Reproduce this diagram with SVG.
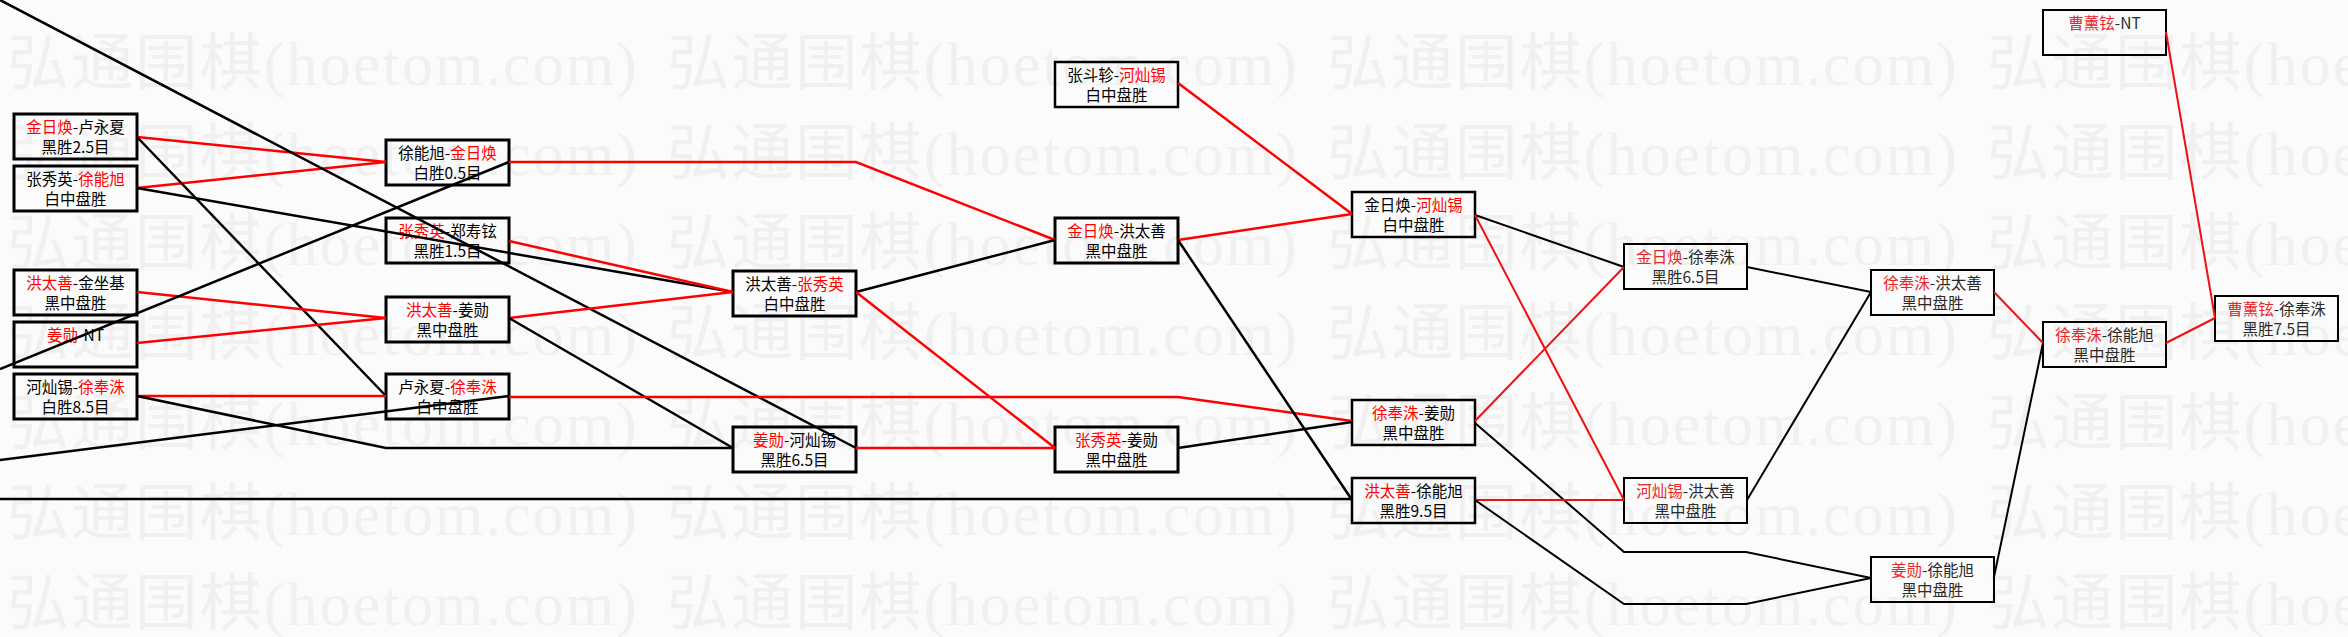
<svg xmlns="http://www.w3.org/2000/svg" xmlns:xlink="http://www.w3.org/1999/xlink" width="2348" height="637" viewBox="0 0 2348 637">
<style>
.wm{font-family:"Liberation Serif","Noto Sans CJK SC",serif;font-size:62px;fill:#f0f0f0}
.box{fill:none;stroke:#000;stroke-width:3}
.box.m{stroke-width:2.5}
.box.s{stroke-width:2}
.t{font-family:"Noto Sans CJK SC",sans-serif;font-size:15.5px;fill:#000;text-anchor:middle}
.t.s{fill:#2a2a2a}
.r{fill:#ff0000}
.lt .r{fill:#e8262a}
.k{fill:none;stroke:#000;stroke-width:2.5;stroke-linejoin:miter}
.red{fill:none;stroke:#ff0000;stroke-width:2.5}
.k2{fill:none;stroke:#000;stroke-width:2}
.red2{fill:none;stroke:#ee1111;stroke-width:2}
</style>
<defs>
<text id="wm" class="wm" textLength="630" lengthAdjust="spacing">弘通围棋(hoetom.com)</text>
</defs>
<rect x="0" y="0" width="2348" height="637" fill="#fbfbfb"/>
<g id="watermark">
<use xlink:href="#wm" x="7" y="85"/><use xlink:href="#wm" x="667" y="85"/><use xlink:href="#wm" x="1327" y="85"/><use xlink:href="#wm" x="1987" y="85"/>
<use xlink:href="#wm" x="7" y="175"/><use xlink:href="#wm" x="667" y="175"/><use xlink:href="#wm" x="1327" y="175"/><use xlink:href="#wm" x="1987" y="175"/>
<use xlink:href="#wm" x="7" y="265"/><use xlink:href="#wm" x="667" y="265"/><use xlink:href="#wm" x="1327" y="265"/><use xlink:href="#wm" x="1987" y="265"/>
<use xlink:href="#wm" x="7" y="355"/><use xlink:href="#wm" x="667" y="355"/><use xlink:href="#wm" x="1327" y="355"/><use xlink:href="#wm" x="1987" y="355"/>
<use xlink:href="#wm" x="7" y="445"/><use xlink:href="#wm" x="667" y="445"/><use xlink:href="#wm" x="1327" y="445"/><use xlink:href="#wm" x="1987" y="445"/>
<use xlink:href="#wm" x="7" y="535"/><use xlink:href="#wm" x="667" y="535"/><use xlink:href="#wm" x="1327" y="535"/><use xlink:href="#wm" x="1987" y="535"/>
<use xlink:href="#wm" x="7" y="625"/><use xlink:href="#wm" x="667" y="625"/><use xlink:href="#wm" x="1327" y="625"/><use xlink:href="#wm" x="1987" y="625"/>
</g>
<g id="n1"><rect class="box" x="14" y="114" width="123" height="45"/><text class="t" x="75.5" y="133"><tspan class="r">金日焕</tspan>-卢永夏</text><text class="t" x="75.5" y="153">黑胜2.5目</text></g>
<g id="n2"><rect class="box" x="14" y="166" width="123" height="45"/><text class="t" x="75.5" y="185">张秀英-<tspan class="r">徐能旭</tspan></text><text class="t" x="75.5" y="205">白中盘胜</text></g>
<g id="n3"><rect class="box" x="14" y="270" width="123" height="45"/><text class="t" x="75.5" y="289"><tspan class="r">洪太善</tspan>-金坐基</text><text class="t" x="75.5" y="309">黑中盘胜</text></g>
<g id="n4"><rect class="box" x="14" y="322" width="123" height="45"/><text class="t" x="75.5" y="341"><tspan class="r">姜勋</tspan>-NT</text></g>
<g id="n5"><rect class="box" x="14" y="374" width="123" height="45"/><text class="t" x="75.5" y="393">河灿锡-<tspan class="r">徐奉洙</tspan></text><text class="t" x="75.5" y="413">白胜8.5目</text></g>
<g id="n6"><rect class="box" x="386" y="140" width="123" height="45"/><text class="t" x="447.5" y="159">徐能旭-<tspan class="r">金日焕</tspan></text><text class="t" x="447.5" y="179">白胜0.5目</text></g>
<g id="n7"><rect class="box" x="386" y="218" width="123" height="45"/><text class="t" x="447.5" y="237"><tspan class="r">张秀英</tspan>-郑寿铉</text><text class="t" x="447.5" y="257">黑胜1.5目</text></g>
<g id="n8"><rect class="box" x="386" y="297" width="123" height="45"/><text class="t" x="447.5" y="316"><tspan class="r">洪太善</tspan>-姜勋</text><text class="t" x="447.5" y="336">黑中盘胜</text></g>
<g id="n9"><rect class="box" x="386" y="374" width="123" height="45"/><text class="t" x="447.5" y="393">卢永夏-<tspan class="r">徐奉洙</tspan></text><text class="t" x="447.5" y="413">白中盘胜</text></g>
<g id="n10"><rect class="box" x="733" y="271" width="123" height="45"/><text class="t" x="794.5" y="290">洪太善-<tspan class="r">张秀英</tspan></text><text class="t" x="794.5" y="310">白中盘胜</text></g>
<g id="n11"><rect class="box" x="733" y="427" width="123" height="45"/><text class="t" x="794.5" y="446"><tspan class="r">姜勋</tspan>-河灿锡</text><text class="t" x="794.5" y="466">黑胜6.5目</text></g>
<g id="n12"><rect class="box m" x="1055" y="62" width="123" height="45"/><text class="t" x="1116.5" y="81">张斗轸-<tspan class="r">河灿锡</tspan></text><text class="t" x="1116.5" y="101">白中盘胜</text></g>
<g id="n13"><rect class="box" x="1055" y="218" width="123" height="45"/><text class="t" x="1116.5" y="237"><tspan class="r">金日焕</tspan>-洪太善</text><text class="t" x="1116.5" y="257">黑中盘胜</text></g>
<g id="n14"><rect class="box" x="1055" y="427" width="123" height="45"/><text class="t" x="1116.5" y="446"><tspan class="r">张秀英</tspan>-姜勋</text><text class="t" x="1116.5" y="466">黑中盘胜</text></g>
<g id="n15"><rect class="box m" x="1352" y="192" width="123" height="45"/><text class="t" x="1413.5" y="211">金日焕-<tspan class="r">河灿锡</tspan></text><text class="t" x="1413.5" y="231">白中盘胜</text></g>
<g id="n16"><rect class="box m" x="1352" y="400" width="123" height="45"/><text class="t" x="1413.5" y="419"><tspan class="r">徐奉洙</tspan>-姜勋</text><text class="t" x="1413.5" y="439">黑中盘胜</text></g>
<g id="n17"><rect class="box m" x="1352" y="478" width="123" height="45"/><text class="t" x="1413.5" y="497"><tspan class="r">洪太善</tspan>-徐能旭</text><text class="t" x="1413.5" y="517">黑胜9.5目</text></g>
<g id="n18" class="lt"><rect class="box s" x="1624" y="244" width="123" height="45"/><text class="t s" x="1685.5" y="263"><tspan class="r">金日焕</tspan>-徐奉洙</text><text class="t s" x="1685.5" y="283">黑胜6.5目</text></g>
<g id="n19" class="lt"><rect class="box s" x="1624" y="478" width="123" height="45"/><text class="t s" x="1685.5" y="497"><tspan class="r">河灿锡</tspan>-洪太善</text><text class="t s" x="1685.5" y="517">黑中盘胜</text></g>
<g id="n20" class="lt"><rect class="box s" x="1871" y="270" width="123" height="45"/><text class="t s" x="1932.5" y="289"><tspan class="r">徐奉洙</tspan>-洪太善</text><text class="t s" x="1932.5" y="309">黑中盘胜</text></g>
<g id="n21" class="lt"><rect class="box s" x="1871" y="557" width="123" height="45"/><text class="t s" x="1932.5" y="576"><tspan class="r">姜勋</tspan>-徐能旭</text><text class="t s" x="1932.5" y="596">黑中盘胜</text></g>
<g id="n22" class="lt"><rect class="box s" x="2043" y="322" width="123" height="45"/><text class="t s" x="2104.5" y="341"><tspan class="r">徐奉洙</tspan>-徐能旭</text><text class="t s" x="2104.5" y="361">黑中盘胜</text></g>
<g id="n23" class="lt"><rect class="box s" x="2215" y="296" width="123" height="45"/><text class="t s" x="2276.5" y="315"><tspan class="r">曹薰铉</tspan>-徐奉洙</text><text class="t s" x="2276.5" y="335">黑胜7.5目</text></g>
<g id="n24" class="lt"><rect class="box s" x="2043" y="10" width="123" height="45"/><text class="t s" x="2104.5" y="29"><tspan class="r">曹薰铉</tspan>-NT</text></g>
<g id="connectors">
<polyline class="red" points="137,137 386,162"/>
<polyline class="red" points="137,188 386,162"/>
<polyline class="k" points="137,137 386,396"/>
<polyline class="k" points="137,188 733,292"/>
<polyline class="red" points="137,292 386,318"/>
<polyline class="red" points="137,343 386,318"/>
<polyline class="red" points="137,396 386,396"/>
<polyline class="k" points="137,396 386,448 733,448"/>
<polyline class="k" points="0,369 509,162"/>
<polyline class="k" points="0,0 856,448"/>
<polyline class="k" points="0,460 509,396"/>
<polyline class="k" points="0,499 1352,499"/>
<polyline class="red" points="509,162 856,162 1055,240"/>
<polyline class="red" points="509,241 733,292"/>
<polyline class="red" points="509,318 733,292"/>
<polyline class="k" points="509,318 733,448"/>
<polyline class="red" points="509,397 1178,397 1352,421"/>
<polyline class="k" points="856,292 1055,240"/>
<polyline class="red" points="856,292 1055,448"/>
<polyline class="red" points="856,448 1055,448"/>
<polyline class="red" points="1178,83 1352,214"/>
<polyline class="red" points="1178,240 1352,214"/>
<polyline class="k" points="1178,240 1352,500"/>
<polyline class="k" points="1178,448 1352,422"/>
<polyline class="k2" points="1475,215 1624,267"/>
<polyline class="red2" points="1475,215 1624,500"/>
<polyline class="red2" points="1475,421 1624,267"/>
<polyline class="k2" points="1475,423 1624,552 1746,552 1871,578"/>
<polyline class="red2" points="1475,500 1624,500"/>
<polyline class="k2" points="1475,500 1624,604 1746,604 1871,578"/>
<polyline class="k2" points="1747,267 1871,292"/>
<polyline class="k2" points="1747,500 1871,292"/>
<polyline class="red2" points="1994,292 2043,343"/>
<polyline class="k2" points="1994,577 2043,343"/>
<polyline class="red2" points="2166,343 2215,318"/>
<polyline class="red2" points="2166,32 2215,318"/>
</g>
</svg>
